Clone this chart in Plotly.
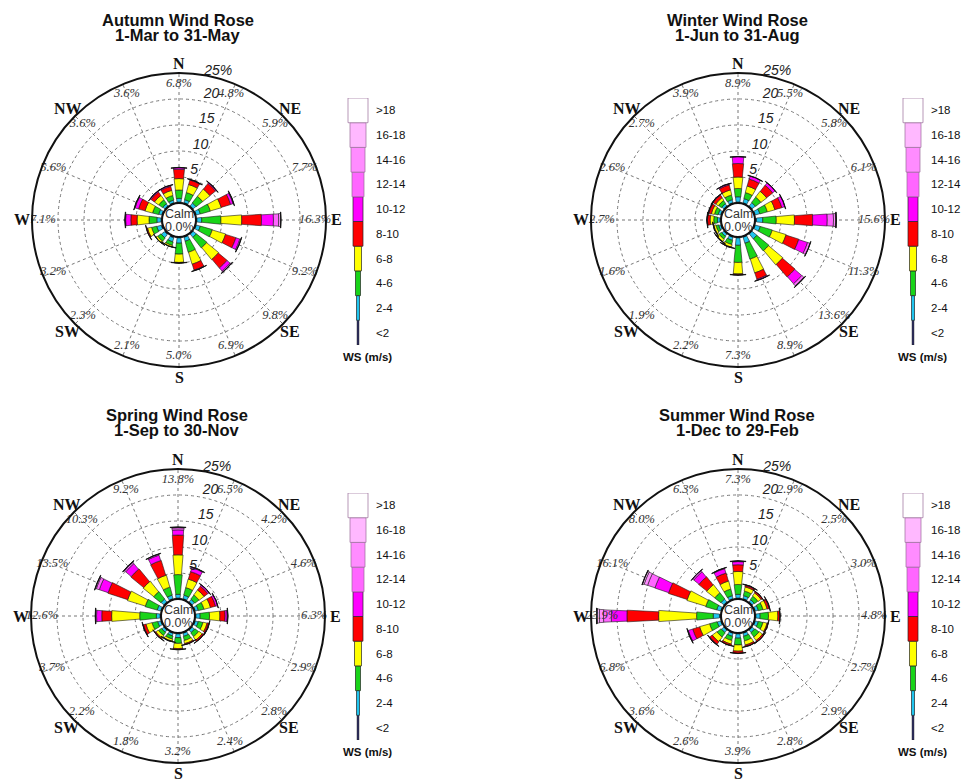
import math
import plotly.graph_objects as go

# ---------------- data ----------------
directions = ['N', 'NNE', 'NE', 'ENE', 'E', 'ESE', 'SE', 'SSE',
              'S', 'SSW', 'SW', 'WSW', 'W', 'WNW', 'NW', 'NNW']
dir_angles = [22.5 * i for i in range(16)]
compass_names = ['N', 'NE', 'E', 'SE', 'S', 'SW', 'W', 'NW']
compass_angles = [45 * i for i in range(8)]
speed_bins = ['<2', '2-4', '4-6', '6-8', '8-10', '10-12', '12-14', '14-16', '16-18', '>18']
bin_colors = ['#000066', '#20C4EE', '#19D419', '#FFFF00', '#FF0000', '#FF00FF',
              '#FF66FF', '#FF8CFF', '#FFB8FF', '#FFFFFF']
ring_vals = [5, 10, 15, 20, 25]
ring_text = ['5', '10', '15', '20', '25%']

# frequency (%) per direction (rows N..NNW), per speed bin (<2 .. >18)
autumn_freq = [
    [0.2, 0.7, 1.6, 2.2, 1.8, 0.3],
    [0.2, 0.6, 1.4, 1.6, 0.9, 0.1],
    [0.2, 0.7, 1.6, 1.8, 1.4, 0.2],
    [0.2, 0.8, 2.0, 2.2, 1.9, 0.5, 0.1],
    [0.2, 0.9, 3.7, 4.0, 3.8, 2.3, 1.0, 0.4],
    [0.2, 0.8, 2.4, 2.7, 2.1, 0.8, 0.2],
    [0.2, 0.8, 2.6, 3.0, 2.2, 0.8, 0.2],
    [0.2, 0.8, 2.2, 2.4, 1.2, 0.1],
    [0.2, 1.0, 2.1, 1.6, 0.1],
    [0.3, 0.8, 0.7, 0.3],
    [0.3, 0.8, 0.8, 0.4],
    [0.3, 0.9, 1.0, 0.8, 0.2],
    [0.2, 0.8, 1.5, 2.3, 1.2, 1.0, 0.1],
    [0.2, 0.6, 1.2, 1.5, 1.3, 0.7, 0.1],
    [0.2, 0.5, 0.9, 1.0, 0.8, 0.2],
    [0.2, 0.5, 0.9, 1.0, 0.8, 0.2],
]
winter_freq = [
    [0.2, 1.0, 1.6, 2.2, 2.6, 1.3],
    [0.2, 0.8, 1.2, 1.3, 1.4, 0.6],
    [0.2, 0.8, 1.3, 1.4, 1.5, 0.6],
    [0.2, 0.9, 1.5, 1.5, 1.4, 0.6],
    [0.3, 1.2, 2.6, 3.5, 3.5, 2.8, 1.2, 0.4, 0.1],
    [0.2, 1.0, 2.4, 2.8, 2.6, 1.8, 0.5],
    [0.2, 1.2, 3.0, 3.6, 3.2, 1.8, 0.5, 0.1],
    [0.2, 1.2, 3.2, 2.8, 1.3, 0.2],
    [0.2, 1.4, 3.3, 2.2, 0.2],
    [0.2, 0.6, 0.8, 0.5, 0.1],
    [0.2, 0.5, 0.6, 0.5, 0.1],
    [0.2, 0.4, 0.5, 0.4, 0.1],
    [0.2, 0.5, 0.7, 0.7, 0.5, 0.1],
    [0.2, 0.5, 0.7, 0.6, 0.5, 0.1],
    [0.2, 0.5, 0.7, 0.6, 0.6, 0.1],
    [0.2, 0.6, 0.9, 1.0, 1.0, 0.2],
]
spring_freq = [
    [0.2, 0.7, 3.8, 3.8, 3.8, 1.0, 0.4, 0.1],
    [0.2, 0.7, 1.5, 1.7, 1.5, 0.8, 0.1],
    [0.2, 0.6, 1.0, 1.2, 0.9, 0.3],
    [0.2, 0.6, 1.1, 1.3, 1.0, 0.4],
    [0.2, 0.8, 1.8, 2.0, 1.0, 0.4, 0.1],
    [0.2, 0.6, 0.9, 0.8, 0.3, 0.1],
    [0.2, 0.6, 0.9, 0.8, 0.3],
    [0.2, 0.6, 0.8, 0.6, 0.2],
    [0.2, 0.7, 1.1, 1.0, 0.2],
    [0.2, 0.5, 0.6, 0.4, 0.1],
    [0.2, 0.5, 0.7, 0.6, 0.2],
    [0.2, 0.6, 1.1, 1.2, 0.5, 0.1],
    [0.2, 0.7, 3.2, 5.4, 1.9, 1.0, 0.2],
    [0.2, 0.7, 2.4, 3.6, 4.0, 1.8, 0.6, 0.2],
    [0.2, 0.7, 1.8, 2.6, 3.2, 1.4, 0.3, 0.1],
    [0.2, 0.7, 1.6, 2.4, 3.0, 1.1, 0.2],
]
summer_freq = [
    [0.2, 0.7, 1.9, 2.5, 1.3, 0.6, 0.1],
    [0.2, 0.6, 0.9, 0.8, 0.3, 0.1],
    [0.2, 0.5, 0.8, 0.7, 0.3],
    [0.2, 0.6, 0.9, 0.8, 0.4, 0.1],
    [0.2, 0.8, 1.6, 1.8, 0.4],
    [0.2, 0.6, 0.9, 0.8, 0.2],
    [0.2, 0.6, 1.0, 0.8, 0.3],
    [0.2, 0.6, 0.9, 0.8, 0.3],
    [0.2, 0.8, 1.3, 1.2, 0.4],
    [0.2, 0.6, 0.8, 0.7, 0.3],
    [0.2, 0.6, 1.0, 1.1, 0.6, 0.1],
    [0.2, 0.7, 1.5, 2.0, 1.4, 0.9, 0.1],
    [0.3, 1.2, 3.2, 7.3, 6.1, 3.0, 1.5, 0.8, 0.4, 0.1],
    [0.2, 0.8, 2.2, 3.8, 3.8, 2.8, 1.5, 0.7, 0.3],
    [0.2, 0.7, 1.5, 2.0, 2.0, 1.3, 0.3],
    [0.2, 0.6, 1.3, 1.6, 1.6, 0.9, 0.1],
]
season_titles = ['Autumn Wind Rose', 'Winter Wind Rose', 'Spring Wind Rose', 'Summer Wind Rose']
season_periods = ['1-Mar to 31-May', '1-Jun to 31-Aug', '1-Sep to 30-Nov', '1-Dec to 29-Feb']
season_freqs = [autumn_freq, winter_freq, spring_freq, summer_freq]
calm_pct = [0.0, 0.0, 0.0, 0.0]

# ---------------- layout / style constants ----------------
W, H = 975, 782
R = 147.0          # outer circle radius (px)
HOLE = 17.0        # calm circle radius (px)
RMAX = 25.0
PPP = (R - HOLE) / RMAX
centers = [(179, 220), (738, 220), (178, 616), (738, 616)]
title_y = [20, 20, 415, 415]
legend_cx = [358, 913, 358, 913]
legend_top = [98, 98, 493, 493]
legend_bot = [345, 345, 740, 740]
bin_px = [3, 4.5, 6.5, 8.5, 10, 11, 12, 13, 14, 15]   # drawn bar width per bin (px)
legend_w = [1.6, 3, 5, 7, 10, 10, 12, 14, 16, 20]      # legend funnel width (px)
CAP_PX = 16
COMPASS_R = 157

SERIF = 'Liberation Serif'
SANS = 'Liberation Sans'

fig = go.Figure()
layout = dict(width=W, height=H, margin=dict(l=0, r=0, t=0, b=0, autoexpand=False),
              paper_bgcolor='white', plot_bgcolor='white', showlegend=False,
              barmode='overlay', annotations=[])


def px2deg(w, rpx):
    return math.degrees(w / rpx)


for k in range(4):
    freq = [row + [0.0] * (10 - len(row)) for row in season_freqs[k]]
    totals = [round(sum(row), 1) for row in freq]
    pname = 'polar' if k == 0 else 'polar%d' % (k + 1)
    cx, cy = centers[k]

    cum = [0.0] * 16
    for b in range(10):
        vals = [freq[d][b] for d in range(16)]
        widths = [px2deg(bin_px[b], HOLE + (cum[d] + vals[d] / 2) * PPP) for d in range(16)]
        fig.add_trace(go.Barpolar(
            r=vals, theta=dir_angles, width=widths, subplot=pname,
            marker=dict(color=bin_colors[b], line=dict(color='#1a1a1a', width=0.6)),
            name=speed_bins[b], hoverinfo='skip'))
        cum = [cum[d] + vals[d] for d in range(16)]

    # end caps
    fig.add_trace(go.Barpolar(
        r=[0.06] * 16, theta=dir_angles, subplot=pname,
        width=[px2deg(CAP_PX, HOLE + t * PPP) for t in totals],
        marker=dict(color='#111111', line=dict(color='#111111', width=0.9)),
        hoverinfo='skip'))

    # calm circle
    fig.add_trace(go.Scatterpolar(
        r=[0] * 73, theta=[5 * i for i in range(73)], mode='lines', subplot=pname,
        line=dict(color='#111111', width=1.4), cliponaxis=False, hoverinfo='skip'))

    # direction percentage labels
    fig.add_trace(go.Scatterpolar(
        r=[22.9] * 16, theta=dir_angles, mode='text', subplot=pname,
        text=['%.1f%%' % t for t in totals], cliponaxis=False,
        textfont=dict(family=SERIF, size=12.5, color='#333333', style='italic'),
        hoverinfo='skip'))

    # ring labels
    fig.add_trace(go.Scatterpolar(
        r=[v + 1.7 for v in ring_vals[:-1]] + [24.99], theta=[17, 16, 15.5, 14.5, 15.5],
        mode='text', subplot=pname, text=ring_text, cliponaxis=False,
        textposition=['middle center'] * 4 + ['top center'],
        textfont=dict(family=SANS, size=14, color='#222222', style='italic'),
        hoverinfo='skip'))

    layout[pname] = dict(
        domain=dict(x=[(cx - R) / W, (cx + R) / W], y=[1 - (cy + R) / H, 1 - (cy - R) / H]),
        hole=HOLE / R, bgcolor='white', barmode='stack', bargap=0,
        radialaxis=dict(range=[0, RMAX], tickvals=ring_vals, showticklabels=False,
                        showline=False, ticks='',
                        showgrid=True, gridcolor='#777777', griddash='dot', gridwidth=1),
        angularaxis=dict(rotation=90, direction='clockwise', tickmode='array',
                         tickvals=dir_angles, showticklabels=False, ticks='',
                         showline=True, linecolor='#111111', linewidth=2,
                         showgrid=True, gridcolor='#777777', griddash='dot', gridwidth=1),
    )

    # compass labels
    for name, ang in zip(compass_names, compass_angles):
        a = math.radians(ang)
        layout['annotations'].append(dict(
            text='<b>%s</b>' % name,
            x=(cx + COMPASS_R * math.sin(a)) / W, y=1 - (cy - COMPASS_R * math.cos(a)) / H,
            xref='paper', yref='paper', showarrow=False, xanchor='center', yanchor='middle',
            font=dict(family=SERIF, size=16, color='#111111')))

    # titles
    ty = title_y[k]
    layout['annotations'].append(dict(
        text='<b>%s</b>' % season_titles[k], x=(cx - 1) / W, y=1 - ty / H,
        xref='paper', yref='paper', showarrow=False, xanchor='center', yanchor='middle',
        font=dict(family=SANS, size=16.5, color='#111111')))
    layout['annotations'].append(dict(
        text='<b>%s</b>' % season_periods[k], x=(cx - 1) / W, y=1 - (ty + 15) / H,
        xref='paper', yref='paper', showarrow=False, xanchor='center', yanchor='middle',
        font=dict(family=SANS, size=16.5, color='#111111')))
    # calm text
    layout['annotations'].append(dict(
        text='Calm', x=cx / W, y=1 - (cy - 6) / H, xref='paper', yref='paper',
        showarrow=False, xanchor='center', yanchor='middle',
        font=dict(family=SANS, size=12.5, color='#333333')))
    layout['annotations'].append(dict(
        text='%.1f%%' % calm_pct[k], x=cx / W, y=1 - (cy + 7) / H, xref='paper', yref='paper',
        showarrow=False, xanchor='center', yanchor='middle',
        font=dict(family=SANS, size=12.5, color='#333333')))

    # legend funnel (cartesian)
    xa = 'xaxis' if k == 0 else 'xaxis%d' % (k + 1)
    ya = 'yaxis' if k == 0 else 'yaxis%d' % (k + 1)
    xref = 'x' if k == 0 else 'x%d' % (k + 1)
    yref = 'y' if k == 0 else 'y%d' % (k + 1)
    lx = legend_cx[k]
    fig.add_trace(go.Bar(
        x=[0] * 10, y=[1] * 10, base=list(range(10)), width=legend_w,
        marker=dict(color=bin_colors, line=dict(color=['#222222'] * 6 + ['#9a6a9a'] * 4, width=0.7)),
        xaxis=xref, yaxis=yref, hoverinfo='skip'))
    layout[xa] = dict(domain=[(lx - 13) / W, (lx + 13) / W], range=[-13, 13],
                      visible=False, anchor=yref, fixedrange=True)
    layout[ya] = dict(domain=[1 - legend_bot[k] / H, 1 - legend_top[k] / H], range=[0, 10],
                      anchor=xref, side='right', showgrid=False, zeroline=False,
                      showline=False, ticks='', tickmode='array', automargin=False,
                      tickvals=[i + 0.5 for i in range(10)], ticktext=speed_bins,
                      ticklabelstandoff=4, fixedrange=True,
                      tickfont=dict(family=SANS, size=11.5, color='#111111'))
    layout['annotations'].append(dict(
        text='<b>WS (m/s)</b>', x=(lx + 9) / W, y=1 - (legend_bot[k] + 12) / H,
        xref='paper', yref='paper', showarrow=False, xanchor='center', yanchor='middle',
        font=dict(family=SANS, size=11.5, color='#111111')))

fig.update_layout(**layout)
fig.write_html('out.html', config={'displayModeBar': False},
               post_script="document.body.style.margin='0';")
